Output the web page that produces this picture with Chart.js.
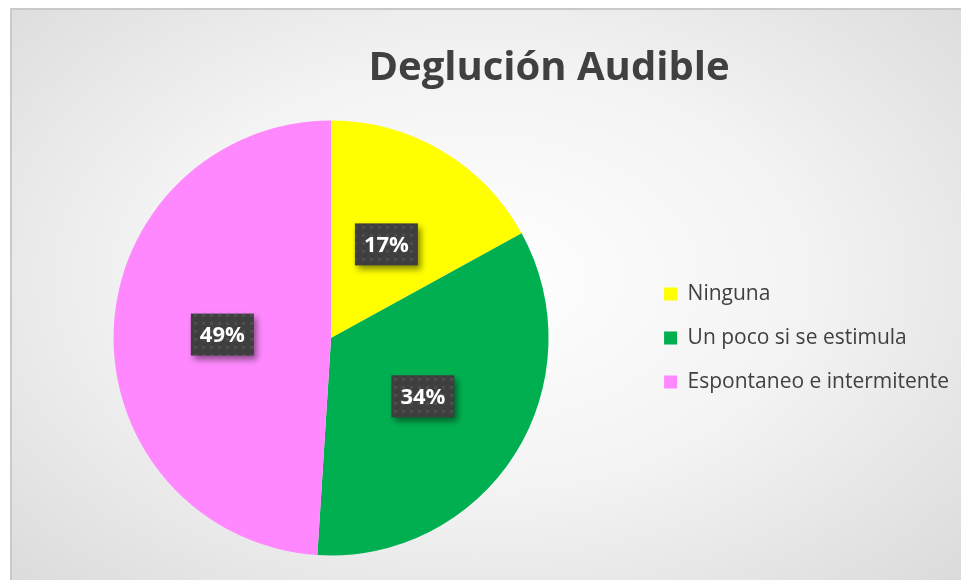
<!DOCTYPE html>
<html>
<head>
<meta charset="utf-8">
<script src="https://cdn.jsdelivr.net/npm/chart.js@4.4.1/dist/chart.umd.min.js"></script>
<style>
  html, body { margin: 0; padding: 0; background: #ffffff; }
  #wrap { position: relative; width: 961px; height: 580px; overflow: hidden; }
  #frame {
    position: absolute; left: 10px; top: 8px; width: 980px; height: 600px;
    border: 2px solid #c9c9c9; box-sizing: border-box;
    background: radial-gradient(ellipse 75% 80% at 48% 45%, #ffffff 0%, #f3f3f3 45%, #d6d6d6 100%);
  }
  #chart { position: absolute; left: 0; top: 0; }
</style>
</head>
<body>
<div id="wrap">
  <div id="frame"></div>
  <canvas id="chart" width="961" height="580"></canvas>
</div>
<script>
// chart data
var titulo = "Deglución Audible";
var categorias = ["Ninguna", "Un poco si se estimula", "Espontaneo e intermitente"];
var porcentajes = [17, 34, 49];
var colores = ["#ffff00", "#00b050", "#ff88ff"];

// dotted dark pattern for the value labels
function makePattern(ctx) {
    var c = document.createElement('canvas');
    c.width = 8; c.height = 8;
    var p = c.getContext('2d');
    p.fillStyle = '#3f3f3f';
    p.fillRect(0, 0, 8, 8);
    p.fillStyle = '#4d4d4d';
    p.fillRect(2, 2, 3, 3);
    return ctx.createPattern(c, 'repeat');
}

var titlePlugin = {
    id: 'titleText',
    afterDraw: function(chart) {
        var ctx = chart.ctx;
        ctx.save();
        ctx.font = 'bold 40px "Open Sans"';
        ctx.fillStyle = '#404040';
        ctx.textAlign = 'center';
        ctx.textBaseline = 'alphabetic';
        ctx.fillText(titulo, 549, 80);
        ctx.restore();
    }
};

var valueLabels = {
    id: 'valueLabels',
    afterDatasetsDraw: function(chart) {
        var ctx = chart.ctx;
        var meta = chart.getDatasetMeta(0);
        var pat = makePattern(ctx);
        ctx.save();
        meta.data.forEach(function(arc, i) {
            var pos = arc.tooltipPosition();
            var w = 63, h = 42;
            var x = pos.x - w / 2, y = pos.y - h / 2;
            ctx.save();
            ctx.shadowColor = 'rgba(0,0,0,0.45)';
            ctx.shadowBlur = 6;
            ctx.shadowOffsetX = 3;
            ctx.shadowOffsetY = 4;
            ctx.fillStyle = pat;
            ctx.fillRect(x, y, w, h);
            ctx.restore();
            ctx.font = 'bold 22px "Open Sans"';
            ctx.fillStyle = '#ffffff';
            ctx.textAlign = 'center';
            ctx.textBaseline = 'middle';
            ctx.fillText(porcentajes[i] + '%', pos.x, pos.y + 1);
        });
        ctx.restore();
    }
};

var ctx = document.getElementById('chart').getContext('2d');
var chart = new Chart(ctx, {
    type: 'pie',
    data: {
        labels: categorias,
        datasets: [{
            data: porcentajes,
            backgroundColor: colores,
            borderWidth: 0
        }]
    },
    options: {
        responsive: false,
        animation: false,
        layout: {
            padding: { left: 21, right: 2, top: 120.5, bottom: 24.5 }
        },
        plugins: {
            tooltip: { enabled: false },
            legend: {
                position: 'right',
                labels: {
                    boxWidth: 13,
                    boxHeight: 13,
                    padding: 23,
                    color: '#404040',
                    font: { family: '"Open Sans"', size: 21 }
                }
            }
        }
    },
    plugins: [titlePlugin, valueLabels]
});
</script>
</body>
</html>
